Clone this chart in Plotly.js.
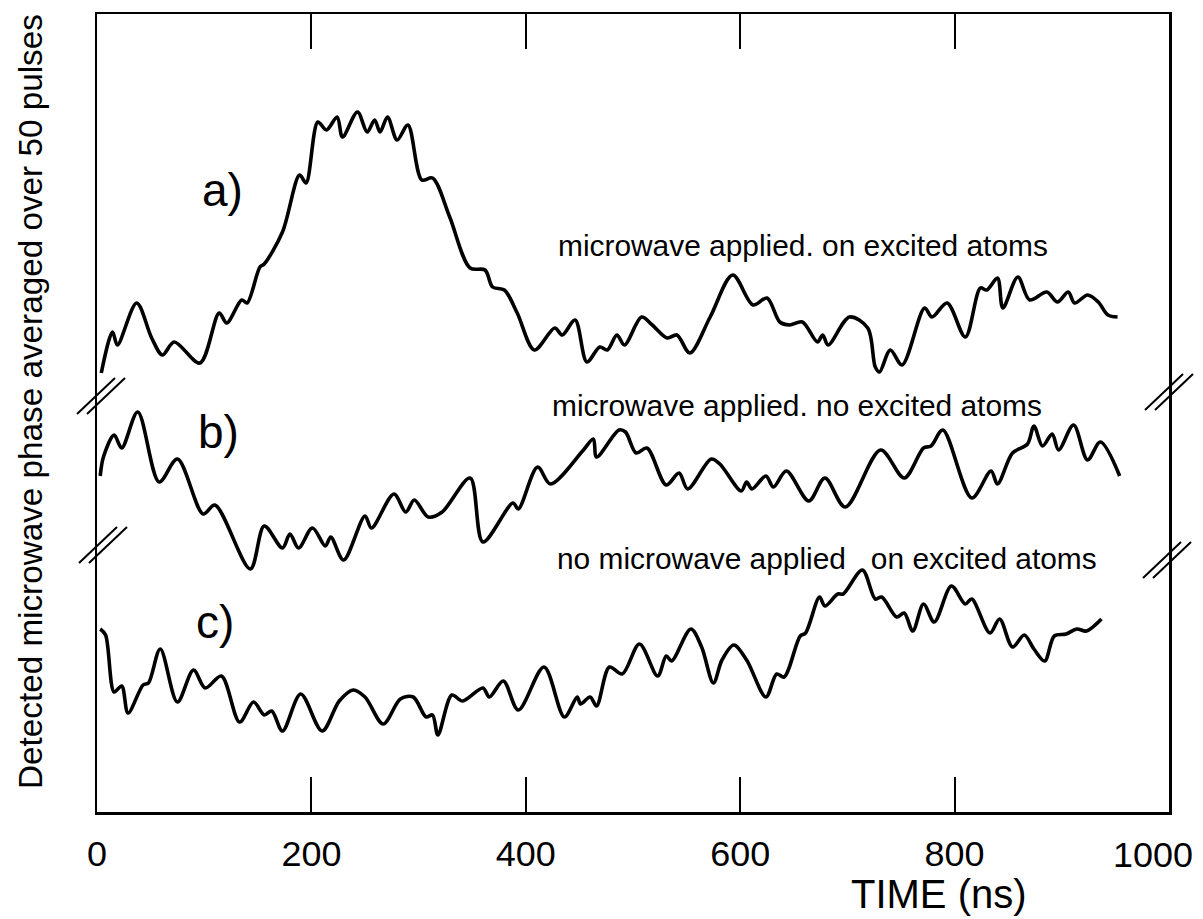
<!DOCTYPE html>
<html>
<head>
<meta charset="utf-8">
<script src="https://cdn.plot.ly/plotly-3.0.1.min.js"></script>
<style>
  html, body { margin: 0; padding: 0; background: #fff; }
  #chart { width: 1203px; height: 919px; }
</style>
</head>
<body>
<div id="chart"></div>
<script>
// ---------- data (time in ns, phase in arbitrary units; traces are offset vertically) ----------
const timeA = [4, 14.5, 19, 37, 51, 61, 72, 96, 114, 121, 135, 140, 152, 156, 173, 189, 195, 206, 214, 224,
  229, 243, 252, 259, 264, 271, 280, 290, 303, 313, 329, 348, 362, 369, 380, 392, 408, 427, 434, 446,
  457, 469, 476, 485, 492, 508, 518, 532, 541, 553, 572, 593, 612, 625, 637, 646, 658, 672, 677, 682,
  702, 719, 726, 730, 740, 751, 772, 779, 793, 810, 824, 830, 840, 845, 859, 870, 886, 896, 906, 912,
  924, 934, 943, 952];
const phaseA = [439, 480, 467, 509, 474, 457, 470, 449, 499, 489, 512, 509, 545, 548, 580, 637, 629, 690, 682, 695,
  675, 700, 680, 692, 680, 695, 672, 687, 632, 634, 595, 544, 542, 525, 522, 499, 462, 484, 477, 492,
  450, 465, 462, 477, 467, 495, 487, 474, 477, 459, 495, 537, 507, 514, 490, 487, 490, 470, 477, 467,
  495, 484, 445, 440, 462, 447, 504, 495, 509, 475, 524, 522, 534, 504, 535, 512, 520, 510, 520, 509,
  517, 510, 497, 495];

const timeB = [3, 6, 16, 23, 38, 58, 75, 99, 110, 143, 156, 173, 180, 188, 201, 213, 218, 230, 250, 256,
  277, 288, 296, 309, 322, 348, 360, 388, 393, 411, 423, 453, 463, 466, 487, 493, 503, 513, 531, 543,
  551, 573, 581, 601, 606, 611, 624, 631, 643, 664, 679, 698, 731, 753, 771, 778, 789, 816, 834, 840,
  854, 868, 874, 882, 891, 897, 911, 924, 936, 954];
const phaseB = [336, 355, 377, 364, 400, 330, 353, 298, 307, 243, 286, 264, 278, 264, 284, 266, 275, 252, 296, 284,
  318, 300, 312, 295, 300, 334, 270, 309, 303, 345, 328, 361, 373, 355, 382, 380, 359, 364, 327, 339,
  323, 353, 348, 321, 330, 323, 336, 325, 341, 311, 334, 305, 362, 334, 364, 366, 382, 314, 341, 328,
  359, 368, 386, 366, 378, 362, 387, 352, 370, 336];

const timeC = [3, 8, 16, 23, 29, 43, 48, 59, 75, 90, 101, 116, 133, 146, 156, 163, 173, 190, 210, 226,
  239, 250, 267, 283, 295, 307, 313, 318, 331, 341, 360, 366, 379, 393, 417, 436, 448, 451, 460, 466,
  478, 490, 506, 523, 531, 536, 554, 564, 575, 583, 594, 606, 624, 634, 641, 656, 661, 674, 679, 691,
  696, 714, 726, 732, 746, 753, 761, 771, 781, 797, 810, 816, 833, 842, 854, 865, 874, 884, 893, 904,
  914, 923, 937];
const phaseC = [183, 177, 120, 126, 99, 127, 129, 163, 110, 142, 124, 136, 90, 110, 97, 101, 81, 118, 81, 111,
  122, 115, 88, 113, 115, 95, 97, 77, 117, 111, 124, 115, 131, 102, 145, 95, 115, 108, 115, 106,
  145, 138, 168, 136, 156, 151, 183, 165, 129, 152, 167, 152, 115, 138, 135, 176, 179, 215, 206, 218,
  218, 242, 213, 215, 195, 199, 181, 208, 190, 226, 208, 213, 179, 193, 165, 177, 163, 151, 176, 178,
  183, 181, 193];

const tickValues = [0, 200, 400, 600, 800, 1000];
const tickLabels = ['0', '200', '400', '600', '800', '1000'];
const curveLabels = ['a)', 'b)', 'c)'];
const curveNotes = ['microwave applied. on excited atoms', 'microwave applied. no excited atoms', 'no microwave applied   on excited atoms'];
const xTitle = 'TIME (ns)';
const yTitle = 'Detected microwave phase averaged over 50 pulses';

// ---------- styling helpers ----------
const W = 1203, H = 919;
const M = { l: 97, r: 34, t: 14, b: 107 };
const PW = W - M.l - M.r, PH = H - M.t - M.b;
const px = x => (x - M.l) / PW;          // pixel -> paper x
const py = y => (H - M.b - y) / PH;      // pixel -> paper y

const cv = document.createElement('canvas').getContext('2d');
function hasFont(name) {
  const s = 'abcdefghijklmnopqrstuvwxyzABCDEFGHIJKLMNOPQRSTUVWXYZ0123456789';
  for (const base of ['monospace', 'serif']) {
    cv.font = '72px ' + base; const a = cv.measureText(s).width;
    cv.font = '72px "' + name + '", ' + base; const b = cv.measureText(s).width;
    if (a !== b) return true;
  }
  return false;
}
const BASE = ['Liberation Sans Narrow', 'Liberation Sans', 'Roboto', 'DejaVu Sans'].find(hasFont) || 'DejaVu Sans';
const FAM = '"' + BASE + '", "Liberation Sans", sans-serif';
function fit(text, target, maxSize) {
  cv.font = '100px "' + BASE + '"';
  return Math.min(maxSize, target * 100 / cv.measureText(text).width);
}

const lineStyle = { color: '#000', width: 3.6, shape: 'spline', smoothing: 0.9 };
const traces = [
  { x: timeA, y: phaseA, name: 'a', mode: 'lines', line: lineStyle },
  { x: timeB, y: phaseB, name: 'b', mode: 'lines', line: lineStyle },
  { x: timeC, y: phaseC, name: 'c', mode: 'lines', line: lineStyle }
];

const tickSize = fit('200', 60, 38);
const noteSize = fit(curveNotes[0], 490, 30);
const tickLabelY = 855;   // pixel row of tick label centres

const annotations = [
  { x: px(30), y: py(402), text: yTitle, textangle: -90, font: { size: fit(yTitle, 775, 34) } },
  { x: px(939), y: py(918), yanchor: 'bottom', height: 44, text: xTitle, font: { size: fit(xTitle, 200, 40) } },
  { x: px(222), y: py(190), text: curveLabels[0], font: { size: 46 } },
  { x: px(218), y: py(432), text: curveLabels[1], font: { size: 46 } },
  { x: px(215), y: py(622), text: curveLabels[2], font: { size: 46 } },
  { x: px(556), y: py(245), xanchor: 'left', text: curveNotes[0], font: { size: noteSize } },
  { x: px(550), y: py(405), xanchor: 'left', text: curveNotes[1], font: { size: noteSize } },
  { x: px(555), y: py(558), xanchor: 'left', text: curveNotes[2], font: { size: noteSize } },
  // last tick label, kept inside the page like in the original
  { x: px(1153), y: py(tickLabelY), text: tickLabels[5], font: { size: tickSize } }
].map(a => Object.assign({ xref: 'paper', yref: 'paper', showarrow: false, xanchor: 'center', yanchor: 'middle' }, a,
  { font: Object.assign({ family: FAM, color: '#000' }, a.font) }));

// axis-break double slashes
function breakMark(cx, cy) {
  return [-5, 5].map(dx => ({
    type: 'line', xref: 'paper', yref: 'paper', layer: 'above',
    x0: px(cx - 19 + dx), y0: py(cy + 18), x1: px(cx + 19 + dx), y1: py(cy - 18),
    line: { color: '#000', width: 2 }
  }));
}
const shapes = [].concat(breakMark(101, 396), breakMark(103, 545), breakMark(1169, 392), breakMark(1167, 560));

const layout = {
  width: W, height: H,
  margin: M,
  paper_bgcolor: '#fff', plot_bgcolor: '#fff',
  showlegend: false,
  xaxis: {
    range: [0, 1000], tickvals: tickValues, ticktext: tickLabels.slice(0, 5).concat(['']),
    ticks: 'inside', ticklen: 35, tickwidth: 2, tickcolor: '#000',
    showline: true, linewidth: 2.5, linecolor: '#000', mirror: 'allticks',
    showgrid: false, zeroline: false,
    tickfont: { family: FAM, size: tickSize, color: '#000' },
    ticklabelstandoff: 8
  },
  yaxis: {
    range: [0, PH], showticklabels: false, ticks: '',
    showline: true, linewidth: 2.5, linecolor: '#000', mirror: true,
    showgrid: false, zeroline: false
  },
  annotations: annotations,
  shapes: shapes
};

Plotly.newPlot('chart', traces, layout, { displayModeBar: false, staticPlot: true });
</script>
</body>
</html>
